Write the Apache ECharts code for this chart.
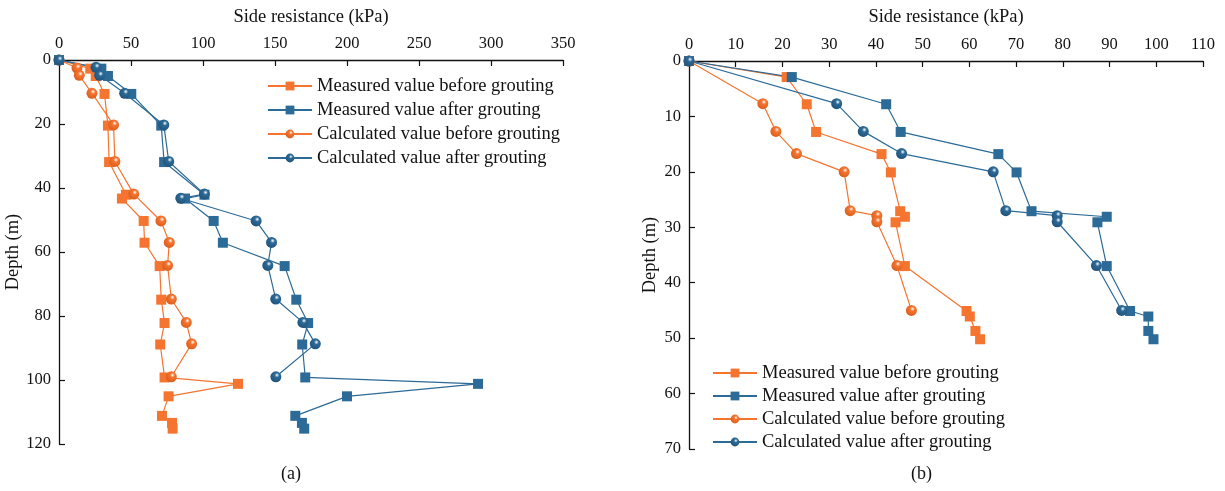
<!DOCTYPE html>
<html>
<head>
<meta charset="utf-8">
<script src="https://cdn.jsdelivr.net/npm/echarts@6/dist/echarts.min.js"></script>
<style>
  html, body { margin: 0; padding: 0; background: #fff; }
  #chart { width: 1225px; height: 491px; }
</style>
</head>
<body>
<div id="chart"></div>
<script>
// ---- Panel (a): side resistance (kPa) against depth (m) ----
const depthMeasA   = [0, 2.7, 5.0, 10.6, 20.5, 31.9, 42.1, 43.3, 50.3, 57.1, 64.4, 74.9, 82.2, 88.9, 99.2, 101.2, 105.1, 111.2, 113.4, 115.2];
const measBeforeA  = [0, 21.7, 25.5, 31.6, 34.0, 34.8, 46.5, 43.7, 58.8, 59.4, 69.9, 71.0, 73.3, 70.3, 73.3, 124.3, 76.1, 71.5, 78.5, 78.9];
const measAfterA   = [0, 29.4, 34.0, 50.2, 71.0, 73.0, 101.0, 87.5, 107.4, 113.8, 156.7, 164.8, 173.0, 168.9, 171.0, 291.0, 200.0, 164.1, 168.7, 170.3];
const depthCalcBeforeA = [0, 2.5, 4.8, 10.4, 20.3, 31.7, 41.9, 50.3, 57.0, 64.2, 74.7, 82.0, 88.7, 99.0];
const calcBeforeA      = [0, 12.5, 14.1, 22.9, 37.9, 38.8, 51.9, 70.8, 76.6, 75.4, 78.0, 88.4, 92.1, 78.0];
const depthCalcAfterA  = [0, 2.3, 4.8, 10.4, 20.3, 31.7, 41.9, 43.2, 50.3, 57.0, 64.2, 74.7, 82.0, 88.7, 99.0];
const calcAfterA       = [0, 25.7, 28.2, 45.6, 72.8, 76.2, 101.0, 84.6, 136.9, 147.6, 145.0, 150.5, 169.4, 178.0, 150.6];

// ---- Panel (b) ----
const depthMeasB  = [0, 2.9, 7.8, 12.8, 16.8, 20.1, 27.1, 28.1, 29.1, 37.0, 45.1, 46.1, 48.7, 50.2];
const measBeforeB = [0, 20.9, 25.2, 27.2, 41.2, 43.2, 45.2, 46.2, 44.2, 46.2, 59.4, 60.1, 61.3, 62.3];
const measAfterB  = [0, 22.0, 42.2, 45.3, 66.2, 70.1, 73.3, 89.4, 87.4, 89.4, 94.4, 98.3, 98.3, 99.4];
const depthCalcB  = [0, 7.7, 12.7, 16.7, 20.0, 27.0, 27.9, 29.0, 36.9, 45.0];
const calcBeforeB = [0, 15.8, 18.6, 23.0, 33.2, 34.5, 40.2, 40.2, 44.5, 47.6];
const calcAfterB  = [0, 31.6, 37.3, 45.5, 65.1, 67.8, 78.8, 78.8, 87.2, 92.6];

// Axis settings
const xTicksA = { min: 0, max: 350, interval: 50 };
const yTicksA = { min: 0, max: 120, interval: 20 };
const xTicksB = { min: 0, max: 110, interval: 10 };
const yTicksB = { min: 0, max: 70, interval: 10 };

const seriesNames = [
  'Measured value before grouting',
  'Measured value after grouting',
  'Calculated value before grouting',
  'Calculated value after grouting'
];
const xTitle = 'Side resistance (kPa)';
const yTitle = 'Depth (m)';

const ORANGE = '#F47430';
const BLUE = '#2C6A97';
const FONT = '"Liberation Serif", "Times New Roman", serif';
const INK = '#111';

function pairs(xs, ys) { return xs.map((v, i) => [v, ys[i]]); }

function ball(c, dark) {
  return {
    type: 'radial', x: 0.6, y: 0.35, r: 0.75,
    colorStops: [
      { offset: 0, color: '#ffffff' },
      { offset: 0.28, color: c },
      { offset: 1, color: dark }
    ]
  };
}

function makeSeries(idx, name, data, color, isCalc) {
  return {
    type: 'line', name: name,
    xAxisIndex: idx, yAxisIndex: idx,
    data: data,
    symbol: isCalc ? 'circle' : 'rect',
    symbolSize: isCalc ? 11 : 10,
    showAllSymbol: true,
    lineStyle: { color: color, width: 1.2 },
    itemStyle: {
      color: isCalc ? ball(color, color === ORANGE ? '#D85A18' : '#1E4F75') : color,
      borderWidth: 0
    },
    emphasis: { disabled: true },
    animation: false
  };
}

function xAxisCfg(idx, ticks, gap) {
  return {
    type: 'value', gridIndex: idx, position: 'top',
    min: ticks.min, max: ticks.max, interval: ticks.interval,
    name: xTitle, nameLocation: 'middle', nameGap: gap,
    nameTextStyle: { fontFamily: FONT, fontSize: 18.5, color: INK },
    axisLine: { show: true, lineStyle: { color: INK, width: 1.3 } },
    axisTick: { show: true, inside: true, length: 6, lineStyle: { color: INK, width: 1.2 } },
    axisLabel: { fontFamily: FONT, fontSize: 16.5, color: INK, margin: 8 },
    splitLine: { show: false }
  };
}

function yAxisCfg(idx, ticks, gap) {
  return {
    type: 'value', gridIndex: idx, inverse: true,
    min: ticks.min, max: ticks.max, interval: ticks.interval,
    name: yTitle, nameLocation: 'middle', nameGap: gap, nameRotate: 90,
    nameTextStyle: { fontFamily: FONT, fontSize: 18.5, color: INK },
    axisLine: { show: true, onZero: false, lineStyle: { color: INK, width: 1.3 } },
    axisTick: { show: true, inside: true, length: 6, lineStyle: { color: INK, width: 1.2 } },
    axisLabel: { fontFamily: FONT, fontSize: 16.5, color: INK, margin: 8 },
    splitLine: { show: false }
  };
}

function legendCfg(left, top, gap) {
  return {
    left: left, top: top, orient: 'vertical',
    data: seriesNames.map(n => ({ name: n })),
    itemWidth: 44, itemHeight: 11, itemGap: gap,
    textStyle: { fontFamily: FONT, fontSize: 18.5, color: INK, lineHeight: 20 },
    selectedMode: false
  };
}

const option = {
  backgroundColor: '#fff',
  animation: false,
  grid: [
    { left: 59, top: 60, width: 504, height: 384 },
    { left: 689, top: 61, width: 514, height: 388 }
  ],
  xAxis: [xAxisCfg(0, xTicksA, 33), xAxisCfg(1, xTicksB, 34)],
  yAxis: [yAxisCfg(0, yTicksA, 31), yAxisCfg(1, yTicksB, 29)],
  // Two legends, one per panel; both list the same four series names.
  legend: [legendCfg(262, 71, 4), legendCfg(707, 358, 3)],
  series: [
    makeSeries(0, seriesNames[0], pairs(measBeforeA, depthMeasA), ORANGE, false),
    makeSeries(0, seriesNames[1], pairs(measAfterA, depthMeasA), BLUE, false),
    makeSeries(0, seriesNames[2], pairs(calcBeforeA, depthCalcBeforeA), ORANGE, true),
    makeSeries(0, seriesNames[3], pairs(calcAfterA, depthCalcAfterA), BLUE, true),
    makeSeries(1, seriesNames[0], pairs(measBeforeB, depthMeasB), ORANGE, false),
    makeSeries(1, seriesNames[1], pairs(measAfterB, depthMeasB), BLUE, false),
    makeSeries(1, seriesNames[2], pairs(calcBeforeB, depthCalcB), ORANGE, true),
    makeSeries(1, seriesNames[3], pairs(calcAfterB, depthCalcB), BLUE, true)
  ],
  graphic: [
    { type: 'text', left: 281, top: 465, style: { text: '(a)', font: '18px ' + FONT, fill: INK } },
    { type: 'text', left: 911, top: 465, style: { text: '(b)', font: '18px ' + FONT, fill: INK } }
  ]
};

const chart = echarts.init(document.getElementById('chart'), null, { renderer: 'canvas' });
chart.setOption(option);
</script>
</body>
</html>
